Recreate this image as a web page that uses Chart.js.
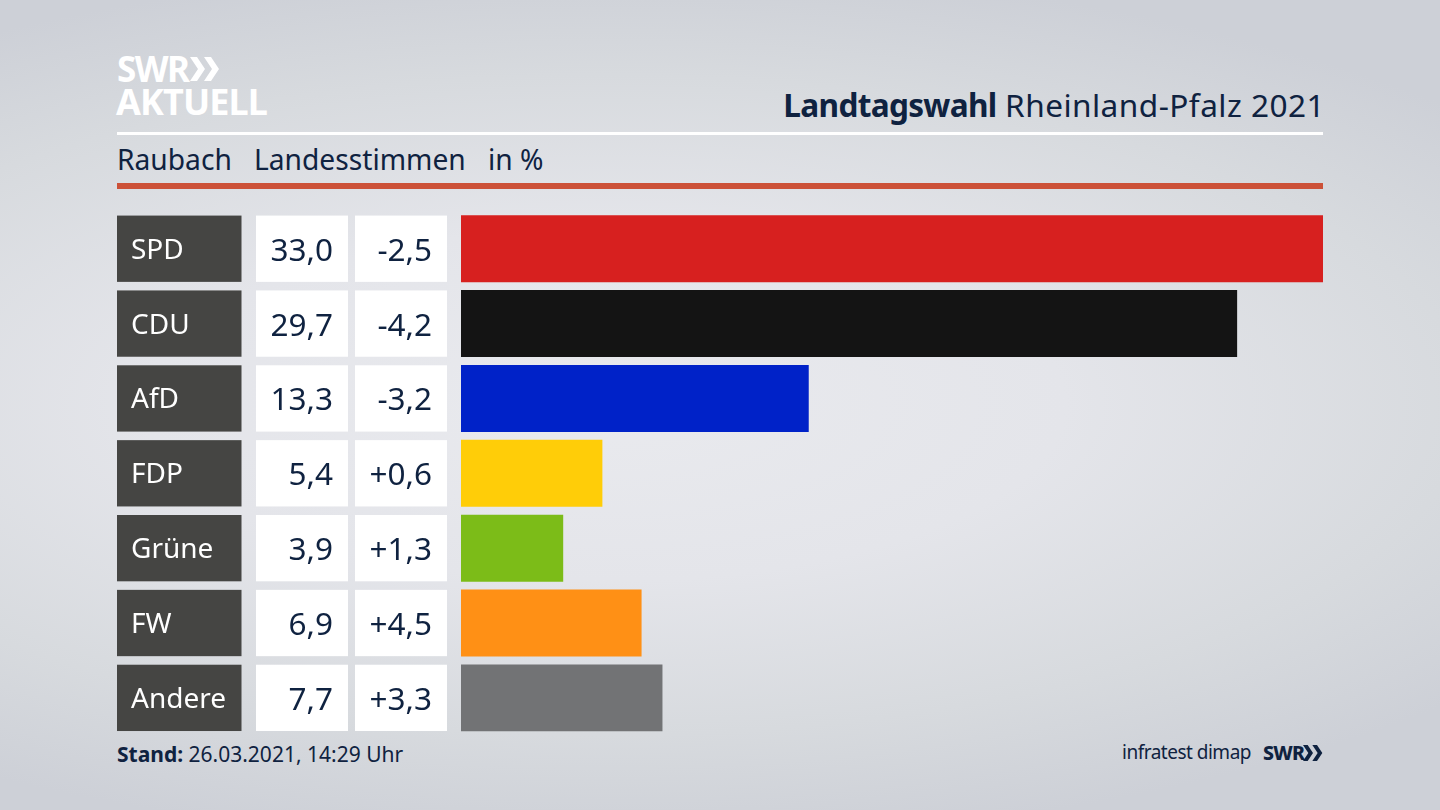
<!DOCTYPE html>
<html lang="de">
<head>
<meta charset="utf-8">
<title>Landtagswahl Rheinland-Pfalz 2021</title>
<script src="https://cdn.jsdelivr.net/npm/chart.js@4"></script>
<style>
  html, body { margin: 0; padding: 0; }
  body {
    width: 1440px; height: 810px; overflow: hidden; position: relative;
    background: radial-gradient(ellipse 1150px 440px at 42% 50%, #e9eaee 0%, #e4e5ea 40%, #d7dade 75%, #cdd0d7 100%);
    font-family: "Noto Sans", sans-serif; color: #0f2240;
  }
  canvas { position: absolute; left: 0; top: 0; }
  .t { position: absolute; white-space: nowrap; line-height: 1; }
  .rule { position: absolute; left: 117px; width: 1206px; }
  svg { position: absolute; }
</style>
</head>
<body>
<div class="t" style="left:117px;top:51px;font-size:35px;font-weight:700;color:#fff;letter-spacing:-1.6px">SWR</div>
<svg style="left:190px;top:57px" width="30" height="24" viewBox="0 0 30 24"><path d="M0 0h7l8 12-8 12H0l8-12zM14 0h7l8 12-8 12h-7l8-12z" fill="#fff"/></svg>
<div class="t" style="left:116px;top:84px;font-size:36px;font-weight:700;color:#fff;letter-spacing:-.9px">AKTUELL</div>
<div class="t" style="right:115px;top:89px;font-size:31.6px;letter-spacing:.45px"><b style="letter-spacing:-.7px">Landtagswahl</b> Rheinland-Pfalz 2021</div>
<div class="rule" style="top:132px;height:3px;background:#fff"></div>
<div class="t" style="left:117px;top:145px;font-size:28.2px">Raubach</div>
<div class="t" style="left:254px;top:145px;font-size:28.2px">Landesstimmen</div>
<div class="t" style="left:488px;top:145px;font-size:28.2px">in %</div>
<div class="rule" style="top:183px;height:6px;background:#cc5138"></div>
<div class="t" style="left:117px;top:744px;font-size:21px"><b>Stand:</b> 26.03.2021, 14:29 Uhr</div>
<div class="t" style="left:1122px;top:743px;font-size:19px;letter-spacing:-.5px">infratest dimap</div>
<div class="t" style="left:1263px;top:743px;font-size:19.5px;font-weight:800;letter-spacing:-.8px">SWR</div>
<svg style="left:1303px;top:745px" width="20" height="16" viewBox="0 0 30 24"><path d="M0 0h7l8 12-8 12H0l8-12zM14 0h7l8 12-8 12h-7l8-12z" fill="#0f2240"/></svg>
<canvas id="chart" width="1440" height="810"></canvas>
<script>
const parties = ["SPD", "CDU", "AfD", "FDP", "Grüne", "FW", "Andere"];
const shares = [33.0, 29.7, 13.3, 5.4, 3.9, 6.9, 7.7];
const changes = [-2.5, -4.2, -3.2, 0.6, 1.3, 4.5, 3.3];
const barColors = ["#d7201f", "#141414", "#0022c8", "#ffcd08", "#7cbc18", "#ff9015", "#727375"];

const fmt = (v) => v.toFixed(1).replace(".", ",");
const fmtChange = (v) => (v > 0 ? "+" : "") + fmt(v);

// boxes left of the bars: party name, share, change
const rowCells = {
  id: "rowCells",
  afterDatasetsDraw(chart) {
    const ctx = chart.ctx;
    const meta = chart.getDatasetMeta(0);
    ctx.save();
    ctx.textBaseline = "middle";
    meta.data.forEach((bar, i) => {
      const top = bar.y - bar.height / 2;
      const h = bar.height;
      ctx.fillStyle = "#454543";
      ctx.fillRect(117, top, 124.5, h);
      ctx.fillStyle = "#ffffff";
      ctx.fillRect(256, top, 92, h);
      ctx.fillRect(355, top, 92, h);

      ctx.textAlign = "left";
      ctx.font = '28px "Noto Sans"';
      ctx.fillText(parties[i], 131, bar.y + 2);

      ctx.fillStyle = "#0f2240";
      ctx.textAlign = "right";
      ctx.font = '31.5px "Noto Sans"';
      ctx.fillText(fmt(shares[i]), 333, bar.y + 3);
      ctx.fillText(fmtChange(changes[i]), 432, bar.y + 3);
    });
    ctx.restore();
  },
};

new Chart(document.getElementById("chart"), {
  type: "bar",
  data: {
    labels: parties,
    datasets: [{ data: shares, backgroundColor: barColors, barThickness: 66.3, borderWidth: 0 }],
  },
  options: {
    indexAxis: "y",
    responsive: false,
    animation: false,
    layout: { padding: { left: 461, right: 117, top: 211.3, bottom: 74.7 } },
    plugins: { legend: { display: false }, tooltip: { enabled: false } },
    scales: {
      x: { display: false, min: 0, max: 33 },
      y: { display: false },
    },
  },
  plugins: [rowCells],
});
</script>
</body>
</html>
